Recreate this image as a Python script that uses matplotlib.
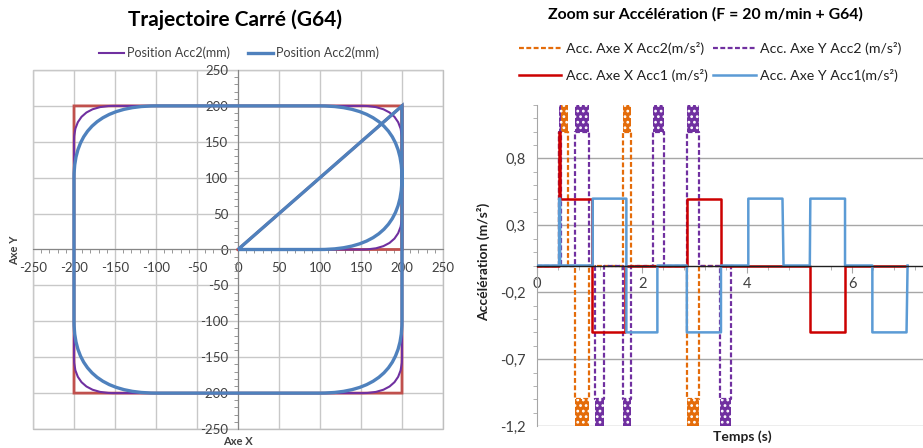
import numpy as np
import matplotlib
matplotlib.use("Agg")
import matplotlib.pyplot as plt
from matplotlib.path import Path
from matplotlib.patches import PathPatch
from matplotlib.lines import Line2D
from matplotlib.ticker import MultipleLocator, FixedLocator, FuncFormatter

plt.rcParams['font.family'] = ['Lato', 'DejaVu Sans']
plt.rcParams['axes.unicode_minus'] = False
plt.rcParams['hatch.linewidth'] = 1.2

# --- trajectory (left chart) ---
square_x = [0, 200, 200, -200, -200, 200, 200, 0]
square_y = [0, 0, 200, 200, -200, -200, 200, 0]
rounded_corners = [1, 2, 3, 4, 5]   # waypoint indexes blended by G64
radius_acc1 = 48     # purple
radius_acc2 = 100    # blue

# --- acceleration (right chart) ---
acc1_x_t = [0, 0.42, 0.42, 0.44, 0.44, 1.04, 1.04, 1.67, 1.67, 2.85, 2.85, 3.50, 3.50,
            5.19, 5.19, 5.86, 5.86, 7.03]
acc1_x_v = [0, 0, 1.0, 1.0, 0.5, 0.5, -0.5, -0.5, 0, 0, 0.5, 0.5, 0,
            0, -0.5, -0.5, 0, 0]
acc1_y_t = [0, 0.42, 0.42, 0.44, 0.44, 1.06, 1.06, 1.70, 1.70, 2.29, 2.29, 2.85, 2.85,
            3.50, 3.50, 4.02, 4.02, 4.67, 4.69, 5.19, 5.20, 5.86, 5.86, 6.38, 6.38,
            7.03, 7.05]
acc1_y_v = [0, 0, 0.5, 0.5, 0, 0, 0.5, 0.5, -0.5, -0.5, 0, 0, -0.5,
            -0.5, 0, 0, 0.5, 0.5, 0, 0, 0.5, 0.5, 0, 0, -0.5,
            -0.5, 0]

acc2_x_start = [0.41, 0.73, 1.63, 2.86]
acc2_x_end = [0.59, 0.98, 1.78, 3.08]
acc2_x_sign = [1, -1, 1, -1]
acc2_y_start = [0.41, 0.73, 1.10, 1.63, 2.20, 2.86, 3.48]
acc2_y_end = [0.46, 0.98, 1.27, 1.78, 2.41, 3.08, 3.69]
acc2_y_sign = [1, 1, -1, -1, 1, 1, -1]
acc2_level = 1.0     # where the saturated ripple begins
acc2_peak = 1.6
acc2_t_end = 3.75

fig = plt.figure(figsize=(9.23, 4.48), dpi=100)

# ================= left chart =================
ax1 = fig.add_axes([33 / 923, 19 / 448, 410 / 923, 359 / 448])


def rounded_path(xs, ys, corners, r):
    pts = np.array(list(zip(xs, ys)), dtype=float)
    verts = [pts[0]]
    codes = [Path.MOVETO]
    for i in range(1, len(pts)):
        p = pts[i]
        if i in corners:
            d_in = (p - pts[i - 1]) / np.linalg.norm(p - pts[i - 1])
            d_out = (pts[i + 1] - p) / np.linalg.norm(pts[i + 1] - p)
            verts += [p - d_in * r, p, p + d_out * r]
            codes += [Path.LINETO, Path.CURVE3, Path.CURVE3]
        else:
            verts.append(p)
            codes.append(Path.LINETO)
    return Path(verts, codes)


ax1.plot(square_x, square_y, color='#C0504D', lw=2.0, zorder=3, solid_joinstyle='miter')
ax1.add_patch(PathPatch(rounded_path(square_x, square_y, rounded_corners, radius_acc1),
                        fill=False, edgecolor='#7030A0', lw=1.5, zorder=4))
ax1.add_patch(PathPatch(rounded_path(square_x, square_y, rounded_corners, radius_acc2),
                        fill=False, edgecolor='#4F81BD', lw=2.4, zorder=5))

ax1.set_xlim(-250, 250)
ax1.set_ylim(-250, 250)
ax1.xaxis.set_major_locator(MultipleLocator(50))
ax1.yaxis.set_major_locator(MultipleLocator(50))
ax1.xaxis.set_minor_locator(MultipleLocator(10))
ax1.yaxis.set_minor_locator(MultipleLocator(10))
ax1.grid(True, which='major', color='#C8C8C8', lw=1.0, zorder=0)
ax1.set_axisbelow(True)
for s in ['top', 'right']:
    ax1.spines[s].set_visible(False)
ax1.spines['left'].set_position(('data', 0))
ax1.spines['bottom'].set_position(('data', 0))
ax1.spines['left'].set_color('#868686')
ax1.spines['bottom'].set_color('#868686')
ax1.spines['left'].set_zorder(2)
ax1.spines['bottom'].set_zorder(2)
ax1.tick_params(which='both', colors='#868686', labelcolor='#404040', labelsize=9.5)
ax1.tick_params(which='major', length=0)
ax1.tick_params(which='minor', length=3, direction='out')
ax1.tick_params(axis='x', which='major', pad=9)
ax1.tick_params(axis='y', which='major', pad=7)
ax1.patch.set_edgecolor('#BFBFBF')
ax1.patch.set_linewidth(1)

fig.text(235 / 923, 1 - 20 / 448, 'Trajectoire Carré (G64)', ha='center', va='center',
         fontsize=15, fontweight='bold')
fig.text(238 / 923, 1 - 441 / 448, 'Axe X', ha='center', va='center',
         fontsize=8, fontweight='bold', color='#404040')
fig.text(15 / 923, 1 - 250 / 448, 'Axe Y', ha='center', va='center', rotation=90,
         fontsize=8, fontweight='bold', color='#404040')

h1 = [Line2D([], [], color='#7030A0', lw=1.5), Line2D([], [], color='#4F81BD', lw=2.4)]
fig.legend(h1, ['Position Acc2(mm)', 'Position Acc2(mm)'], loc='center',
           bbox_to_anchor=(239 / 923, 1 - 53 / 448), ncol=2, frameon=False,
           fontsize=9, handlelength=2.0, handletextpad=0.2, columnspacing=1.5,
           labelcolor='#404040')

# ================= right chart =================
ax2 = fig.add_axes([537 / 923, 22 / 448, (947 - 537) / 923, (426 - 105) / 448])

col_or, col_pu, col_re, col_bl = '#E46C0A', '#7030A0', '#CC0000', '#5B9BD5'


def pulse_line(starts, ends, signs):
    t, v = [0.0], [0.0]
    for s, e, g in zip(starts, ends, signs):
        t += [s, s, e, e]
        v += [0, g * acc2_level, g * acc2_level, 0]
    t.append(acc2_t_end)
    v.append(0)
    return t, v


for starts, ends, signs, col in [(acc2_x_start, acc2_x_end, acc2_x_sign, col_or),
                                 (acc2_y_start, acc2_y_end, acc2_y_sign, col_pu)]:
    t, v = pulse_line(starts, ends, signs)
    ax2.plot(t, v, color=col, lw=1.6, dashes=(2.2, 1.1), zorder=3)
    for s, e, g in zip(starts, ends, signs):
        ax2.fill_between([s, e], g * acc2_level, g * acc2_peak, facecolor=col,
                         edgecolor='white', hatch='...', lw=0, zorder=3)

ax2.plot(acc1_x_t, acc1_x_v, color=col_re, lw=1.8, zorder=4)
ax2.plot(acc1_y_t, acc1_y_v, color=col_bl, lw=1.8, zorder=5)

ax2.set_xlim(0, 7.8)
ax2.set_ylim(-1.2, 1.2)
ax2.yaxis.set_major_locator(FixedLocator([-1.2, -0.7, -0.2, 0.3, 0.8]))
ax2.yaxis.set_minor_locator(MultipleLocator(0.1))
ax2.xaxis.set_major_locator(FixedLocator([0, 2, 4, 6]))
ax2.xaxis.set_minor_locator(MultipleLocator(0.4))
ax2.yaxis.set_major_formatter(FuncFormatter(lambda v, p: f'{v:.1f}'.replace('.', ',')))
ax2.xaxis.set_major_formatter(FuncFormatter(lambda v, p: f'{v:.0f}'))
ax2.grid(True, axis='y', which='major', color='#A6A6A6', lw=1.0, zorder=0)
ax2.set_axisbelow(True)
for s in ['top', 'right']:
    ax2.spines[s].set_visible(False)
ax2.spines['bottom'].set_position(('data', 0))
ax2.spines['bottom'].set_color('#202020')
ax2.spines['bottom'].set_linewidth(1.0)
ax2.spines['bottom'].set_zorder(6)
ax2.spines['left'].set_color('#A6A6A6')
ax2.tick_params(which='both', colors='#A6A6A6', labelcolor='#404040', labelsize=10.5)
ax2.tick_params(axis='x', which='major', length=5, pad=3)
ax2.tick_params(axis='x', which='minor', length=3)
ax2.tick_params(axis='y', which='major', length=0, pad=8)
ax2.tick_params(axis='y', which='minor', length=3)

fig.text(705 / 923, 1 - 14 / 448, 'Zoom sur Accélération (F = 20 m/min + G64)',
         ha='center', va='center', fontsize=11.4, fontweight='bold')
fig.text(742 / 923, 1 - 437 / 448, 'Temps (s)', ha='center', va='center',
         fontsize=10, fontweight='bold', color='#202020')
fig.text(484 / 923, 1 - 262 / 448, 'Accélération (m/s²)', ha='center', va='center',
         rotation=90, fontsize=10, fontweight='bold', color='#202020')

h2 = [Line2D([], [], color=col_or, lw=1.6, dashes=(2.2, 1.1)),
      Line2D([], [], color=col_re, lw=1.8),
      Line2D([], [], color=col_pu, lw=1.6, dashes=(2.2, 1.1)),
      Line2D([], [], color=col_bl, lw=1.8)]
fig.legend(h2, ['Acc. Axe X Acc2(m/s²)', 'Acc. Axe X Acc1 (m/s²)',
                'Acc. Axe Y Acc2 (m/s²)', 'Acc. Axe Y Acc1(m/s²)'],
           loc='center', bbox_to_anchor=(710 / 923, 1 - 62 / 448), ncol=2, frameon=False,
           fontsize=10.2, handlelength=3.0, handletextpad=0.3, columnspacing=0.4,
           labelspacing=0.95, labelcolor='#202020')

fig.savefig('out.png', dpi=100)
